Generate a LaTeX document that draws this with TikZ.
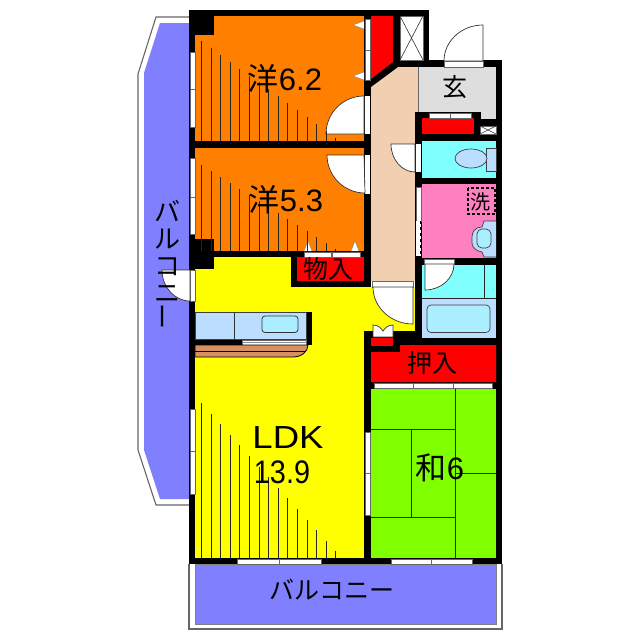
\documentclass[tikz,border=0pt]{standalone}
\usepackage{fontspec}
\setmainfont{Liberation Sans}
\newfontfamily\cjk{Noto Sans CJK JP}
\definecolor{yoshitsu}{HTML}{FF8000}
\definecolor{ldk}{HTML}{FFFF00}
\definecolor{rouka}{HTML}{F0D0B0}
\definecolor{oshiire}{HTML}{FF0000}
\definecolor{tatami}{HTML}{80FF00}
\definecolor{mizu}{HTML}{80FFFF}
\definecolor{senmen}{HTML}{FF80C0}
\definecolor{baru}{HTML}{8080FF}
\definecolor{genkan}{HTML}{DEDEDE}
\definecolor{setsubi}{HTML}{BBDDFF}
\definecolor{yokusou}{HTML}{AAEEFF}
\definecolor{counter}{HTML}{D89060}
\usetikzlibrary{calc}
\tikzset{
  wall/.style={fill=black},
  pane/.style={fill=white,draw=black!60,line width=.7pt},
  door/.style={fill=white,draw=black!80,line width=.7pt},
  ray/.style={draw=black!85,line width=.9pt},
  ken/.style={draw=black!85,line width=.7pt},
  fitting/.style={fill=setsubi,draw=black!75,line width=.7pt},
  lbl/.style={inner sep=0pt,font=\fontsize{31}{31}\selectfont},
  sml/.style={inner sep=0pt,font=\cjk\fontsize{25}{25}\selectfont}
}
\begin{document}
\begin{tikzpicture}[x=1pt,y=-1pt]
  \useasboundingbox (0,0) rectangle (640,640);

  % balconies
\draw[draw=black!60,line width=1.1pt] (189,17) -- (156,17) -- (138,74) -- (138,450) -- (156,505) -- (189,505);
\fill[baru] (189,23) -- (160,23) -- (144,73) -- (144,450) -- (160,499) -- (189,499) -- cycle;
\draw[draw=black!60,line width=1.1pt] (189,564) -- (189,629) -- (502,629) -- (502,564);
\fill[baru,draw=black!50,line width=.5pt] (195,564) rectangle (496,624);

  % rooms
\fill[yoshitsu] (195,16) rectangle (364,141);
\fill[yoshitsu] (195,148) rectangle (364,251);
\fill[ldk] (195,269) -- (214,269) -- (214,257) -- (291,257) -- (291,287) -- (415,287) -- (415,331) -- (364,331) -- (364,558) -- (195,558) -- cycle;
\fill[rouka] (371,87) -- (397,67) -- (418,67) -- (418,112) -- (415,112) -- (415,281) -- (371,281) -- cycle;
\fill[genkan] (418,67) rectangle (496,119);
\draw[draw=black!60,line width=.5pt] (418,67) -- (418,112);
\fill[oshiire] (297,257) rectangle (364,281);
\fill[oshiire] (371,16) -- (393,16) -- (393,62) -- (371,79) -- cycle;
\fill[oshiire] (422,118) rectangle (474,134);
\fill[mizu] (422,141) rectangle (496,178);
\fill[senmen] (422,184) rectangle (496,258);
\fill[mizu] (422,265) rectangle (496,298);
\fill[setsubi] (422,298) rectangle (496,338);
\fill[tatami] (371,389) rectangle (496,558);

  % walls
\fill[wall] (189,9.5) rectangle (429,16);
\fill[wall] (189,9.5) rectangle (214,35);
\fill[wall] (189,9.5) rectangle (195,564);
\fill[wall] (189,141) rectangle (371,148);
\fill[wall] (189,251) rectangle (371,257);
\fill[wall] (189,239) rectangle (214,269);
\fill[wall] (291,251) rectangle (297,287);
\fill[wall] (291,281) rectangle (371,287);
\fill[wall] (364,16) rectangle (371,287);
\fill[wall] (393,9.5) rectangle (400,67);
\fill[wall] (423,9.5) rectangle (429,67);
\fill[wall] (393,60) rectangle (502,67);
\fill[wall] (393,62) -- (398,67) -- (371,87) -- (364,88) -- (364,80) -- (371,79) -- cycle;
\fill[wall] (496,60) rectangle (502,564);
\fill[wall] (415,112) rectangle (481,118);
\fill[wall] (474,112) rectangle (481,141);
\fill[wall] (474,119) rectangle (502,126);
\fill[wall] (415,134) rectangle (502,141);
\fill[wall] (415,112) rectangle (422,345);
\fill[wall] (415,178) rectangle (502,184);
\fill[wall] (415,258) rectangle (502,265);
\fill[wall] (415,338) rectangle (502,345);
\fill[wall] (364,331) rectangle (422,345);
\fill[wall] (364,345) rectangle (400,352);
\fill[wall] (364,331) rectangle (371,564);
\fill[wall] (364,382) rectangle (502,389);
\fill[wall] (189,558) rectangle (502,564);
\fill[wall] (195,339) rectangle (312,345);
\fill[wall] (306,312) rectangle (312,345);

  % closets
\fill[oshiire] (371,352) -- (400,352) -- (400,345) -- (496,345) -- (496,382) -- (371,382) -- cycle;
\fill[oshiire] (371,338) rectangle (393,346);
\draw[fill=white,draw=black!60,line width=.5pt] (400,16) rectangle (423,60);
\draw[black!80,line width=.6pt] (400,16) -- (423,60) (423,16) -- (400,60);
\draw[fill=white,draw=black!60,line width=.5pt] (480,126) rectangle (496,134);
\draw[black!80,line width=.6pt] (480,126) -- (496,134) (496,126) -- (480,134);
\draw[door] (373,337) -- (373,325) .. controls (378,325) and (381,328) .. (383,331) .. controls (385,328) and (388,325) .. (393,325) -- (393,337) -- cycle;

  % windows
\foreach \ya/\yb in {52/89,89/127,158/197,197/234,409/451,451/494}
{
  \draw[pane] (190,\ya) rectangle (195,\yb);
}
\foreach \ya/\yb in {432/473,473/515}
{
  \draw[pane] (365,\ya) rectangle (370,\yb);
}
\foreach \xa/\xb in {237/279,279/321,391/431,431/472}
{
  \draw[pane] (\xa,559) rectangle (\xb,564);
}
\foreach \xa/\xb in {374/413,413/453,453/492}
{
  \draw[pane] (\xa,383) rectangle (\xb,388);
}
\draw[pane] (429,113) rectangle (450,118);
\draw[pane] (450,113) rectangle (471,118);
\draw[pane] (304,252) rectangle (331,257);
\draw[pane] (332,252) rectangle (360,257);
\draw[pane] (365,19) rectangle (370,50);
\draw[pane] (365,50) rectangle (370,80);
\draw[pane] (242,340) rectangle (306,345);
\draw[black!45,line width=.5pt] (242,342.5) -- (306,342.5);
\draw[pane] (416,187) rectangle (421,221);
\fill[white] (416,221) rectangle (421,256);
\draw[black,dashed,line width=.7pt] (420.5,221) -- (420.5,256);

  % doors
\fill[white] (365,96) rectangle (370,134);
\fill[white] (365,155) rectangle (370,194);
\fill[white] (416,144) rectangle (421,172);
\draw[door] (364,134) -- (364,96) arc[start angle=270,end angle=180,radius=38] -- cycle;
\draw[door] (364,155) -- (327,155) arc[start angle=180,end angle=90,radius=38] -- cycle;
\draw[door] (415,144) -- (391,144) arc[start angle=180,end angle=90,x radius=24,y radius=28] -- cycle;
\draw[pane] (372,281) rectangle (413,287);
\draw[door] (413,287) -- (413,324) arc[start angle=90,end angle=180,x radius=40,y radius=37] -- cycle;
\draw[pane] (424,259) rectangle (454,264);
\draw[door] (425,264) -- (454,264) arc[start angle=0,end angle=90,x radius=29,y radius=26] -- cycle;
\draw[pane] (190,270) rectangle (195,301);
\draw[door] (190,270) -- (162,270) arc[start angle=180,end angle=90,x radius=28,y radius=31] -- cycle;
\draw[pane] (444,61) rectangle (483,67);
\draw[door] (483,61) -- (483,25) arc[start angle=270,end angle=180,x radius=39,y radius=36] -- cycle;

  % door stops
\draw[fill=white,draw=black!50,line width=.4pt] (364,21) -- (353,25) -- (364,29);
\draw[fill=white,draw=black!50,line width=.4pt] (364,72) -- (353,76) -- (364,80);
\draw[fill=white,draw=black!50,line width=.4pt] (304,251) -- (308,241) -- (312,251);
\draw[fill=white,draw=black!50,line width=.4pt] (351,251) -- (355,241) -- (359,251);

  % sun rays
\foreach \i in {0,...,14}
{
  \draw[ray] ({201.5+9.6*\i},{41+6.9*\i}) -- ({201.5+9.6*\i},141);
  \draw[ray] ({201.5+9.6*\i},{165+6*\i}) -- ({201.5+9.6*\i},251);
  \draw[ray] ({201.5+9.6*\i},{403+10.6*\i}) -- ({201.5+9.6*\i},558);
}

  % tatami
\draw[ken] (371,429.5) -- (455,429.5);
\draw[ken] (371,517) -- (455,517);
\draw[ken] (455,389) -- (455,558);
\draw[ken] (411.5,429.5) -- (411.5,517);
\draw[ken] (455,473) -- (496,473);

  % toilet
\draw[fitting] (486,148) rectangle (496,171);
\draw[fitting] (471,158.5) ellipse [x radius=16,y radius=9.5];

  % bath and basin
\draw[ken] (484,265) -- (484,298);
\draw[ken] (422,298.5) -- (496,298.5);
\draw[fill=yokusou,draw=black!75,line width=.7pt,rounded corners=4pt] (427,305) rectangle (490,332.5);
\draw[fitting] (496,221) -- (484,221) -- (482,227) .. controls (476,227) and (472,231) .. (472,237) -- (472,243) .. controls (472,248) and (477,251) .. (482,252) -- (484,257) -- (496,257);
\draw[fill=yokusou,draw=black!75,line width=.7pt,rounded corners=5pt] (477,229) rectangle (491,248);
\draw[black,densely dashed,line width=1.2pt] (468,188) rectangle (495,214);

  % kitchen
\draw[fitting] (195,312) rectangle (306,339);
\draw[black!80,line width=.7pt] (234,312) -- (234,339);
\draw[fill=yokusou,draw=black!80,line width=.8pt,rounded corners=3pt] (262,316) rectangle (298,332.5);
\draw[fill=counter,draw=black,line width=.8pt] (195,345) -- (308,345) .. controls (308,352) and (301,357) .. (293,357) -- (195,357) -- cycle;
\draw[black,line width=.6pt] (195,351) -- (306,351);

  % labels
\node[lbl] (yo1) at (285,79) {{\cjk 洋}6.2};
\node[lbl] (yo2) at (286,200) {{\cjk 洋}5.3};
\node[lbl] (ldk) at (288,438) {\scalebox{1.18}[1.03]{LDK}};
\node[lbl] (ldkn) at (282,472) {\scalebox{.93}[1.05]{13.9}};
\node[lbl] (wa) at (440,468) {{\cjk 和}6};
\node[sml] (gen) at (455,87) {玄};
\node[sml] (mono) at (328,269) {物入};
\node[sml] (oshi) at (432,363) {押入};
\node[sml,font=\cjk\fontsize{20}{20}\selectfont] (sen) at (480,202) {洗};
\node[sml] (baruS) at (332,590) {バルコニー};
\node[sml,align=center,font=\cjk\fontsize{26}{27}\selectfont] (baruW) at (167,265) {バ\\ル\\コ\\ニ\\\rotatebox{90}{ー}};
\end{tikzpicture}
\end{document}
